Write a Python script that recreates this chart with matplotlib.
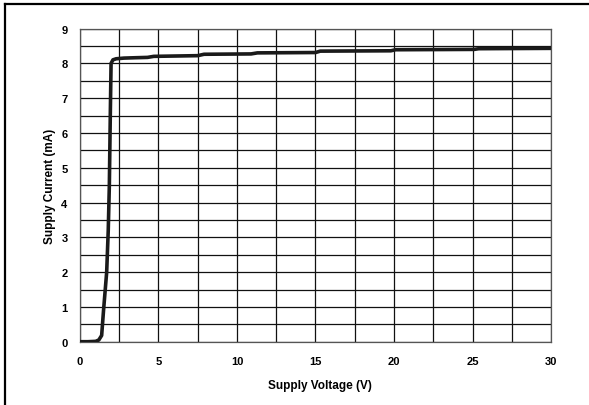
import matplotlib
matplotlib.use("Agg")
import matplotlib.pyplot as plt
from matplotlib.lines import Line2D
import numpy as np

# ================= DATA =================
voltage = [0, 0.5, 1.0, 1.2, 1.38, 1.5, 1.7, 1.8, 1.87, 1.93, 1.98, 2.1, 2.3, 2.8,
           3.5, 4.3, 4.7, 7.5, 7.9, 10.9, 11.3, 15.0, 15.3, 19.8, 20.1, 25.1, 25.4, 30]
current = [0, 0, 0.01, 0.05, 0.18, 0.9, 2.0, 3.2, 4.5, 6.5, 8.0, 8.1, 8.13, 8.15,
           8.16, 8.17, 8.2, 8.22, 8.26, 8.27, 8.3, 8.31, 8.35, 8.36, 8.39, 8.4, 8.42, 8.43]
x_ticks = [0, 5, 10, 15, 20, 25, 30]
y_ticks = list(range(0, 10))
# ========================================

plt.rcParams['font.family'] = ['Liberation Sans', 'DejaVu Sans']

fig = plt.figure(figsize=(5.89, 4.06), dpi=100)
ax = fig.add_axes([0.1358, 0.1559, 0.7997, 0.7714])

ax.plot(voltage, current, color="#1a1a1a", linewidth=2.6, solid_joinstyle="round",
        solid_capstyle="round", zorder=3)

ax.set_xlim(0, 30)
ax.set_ylim(0, 9)
ax.set_xticks(x_ticks)
ax.set_yticks(y_ticks)
ax.set_xticks(np.arange(0, 30.01, 2.5), minor=True)
ax.set_yticks(np.arange(0, 9.01, 0.5), minor=True)
ax.grid(which="both", color="#111111", linewidth=0.9)
ax.tick_params(which="both", length=0)
ax.tick_params(axis="x", pad=10, labelsize=8)
ax.tick_params(axis="y", pad=9, labelsize=8)
for lbl in ax.get_xticklabels() + ax.get_yticklabels():
    lbl.set_fontweight("bold")
for s in ax.spines.values():
    s.set_color("#555555")
    s.set_linewidth(0.9)

ax.set_xlabel("Supply Voltage (V)", fontsize=8.5, fontweight="bold", labelpad=10.5)
ax.xaxis.set_label_coords(0.51, -0.118)
ax.set_ylabel("Supply Current (mA)", fontsize=8.5, fontweight="bold", labelpad=4)

# frame lines along top and left of the picture
fig.add_artist(Line2D([5 / 589, 1], [1 - 5 / 406, 1 - 5 / 406], color="black", linewidth=1.6,
                      transform=fig.transFigure))
fig.add_artist(Line2D([5 / 589, 5 / 589], [0, 1 - 5 / 406], color="black", linewidth=1.6,
                      transform=fig.transFigure))

plt.savefig("out.png", dpi=100)
